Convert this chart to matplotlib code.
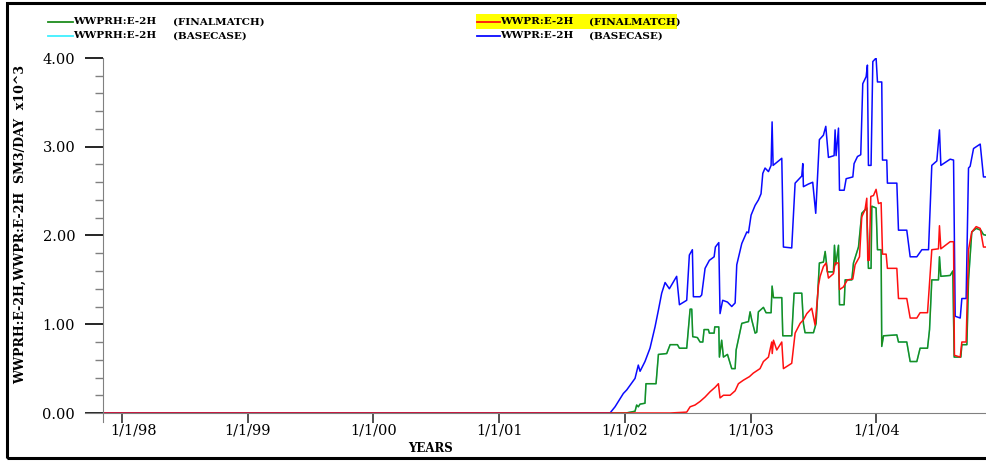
import matplotlib.pyplot as plt
from matplotlib.lines import Line2D
from matplotlib.patches import Rectangle
from matplotlib.transforms import ScaledTranslation

# time in decimal years, rates in SM3/DAY x10^3
t_wwpr_base = [1997.85, 2001.882, 2001.922, 2001.988, 2002.015, 2002.081, 2002.107, 2002.121, 2002.16,
               2002.2, 2002.24, 2002.267, 2002.293, 2002.32, 2002.354, 2002.412, 2002.434, 2002.492,
               2002.513, 2002.537, 2002.545, 2002.598, 2002.611, 2002.638, 2002.672, 2002.71, 2002.72,
               2002.747, 2002.757, 2002.778, 2002.816, 2002.85, 2002.877, 2002.89, 2002.93, 2002.97,
               2002.983, 2003.004, 2003.036, 2003.062, 2003.083, 2003.097, 2003.115, 2003.142, 2003.163,
               2003.171, 2003.179, 2003.248, 2003.261, 2003.327, 2003.354, 2003.407, 2003.415, 2003.42,
               2003.46, 2003.494, 2003.518, 2003.547, 2003.579, 2003.598, 2003.619, 2003.664, 2003.672,
               2003.68, 2003.699, 2003.707, 2003.744, 2003.76, 2003.813, 2003.823, 2003.85, 2003.876,
               2003.892, 2003.919, 2003.929, 2003.937, 2003.958, 2003.972, 2003.998, 2004.009, 2004.043,
               2004.049, 2004.083, 2004.088, 2004.163, 2004.176, 2004.242, 2004.269, 2004.322, 2004.362,
               2004.415, 2004.441, 2004.481, 2004.502, 2004.513, 2004.587, 2004.614, 2004.627, 2004.667,
               2004.68, 2004.714, 2004.733, 2004.746, 2004.773, 2004.826, 2004.852, 2004.881]
wwpr_base = [0, 0, 0.07, 0.22, 0.26, 0.39, 0.54, 0.47, 0.58,
             0.73, 0.97, 1.16, 1.35, 1.47, 1.40, 1.54, 1.22, 1.27,
             1.78, 1.84, 1.31, 1.31, 1.33, 1.63, 1.72, 1.76, 1.87,
             1.92, 1.12, 1.27, 1.25, 1.20, 1.24, 1.67, 1.91, 2.04,
             2.03, 2.23, 2.34, 2.40, 2.47, 2.70, 2.76, 2.72, 2.79,
             3.28, 2.79, 2.87, 1.87, 1.86, 2.59, 2.67, 2.81, 2.55,
             2.58, 2.60, 2.25, 3.08, 3.13, 3.23, 2.88, 2.90, 3.19,
             2.90, 3.21, 2.51, 2.51, 2.64, 2.66, 2.81, 2.89, 2.91,
             3.71, 3.79, 3.92, 2.79, 2.79, 3.96, 4.00, 3.73, 3.73,
             2.85, 2.85, 2.59, 2.59, 2.06, 2.06, 1.76, 1.76, 1.84,
             1.84, 2.79, 2.84, 3.19, 2.79, 2.86, 2.85, 1.09, 1.07,
             1.29, 1.29, 2.76, 2.78, 2.98, 3.03, 2.66, 2.66]

t_wwprh = [1997.85, 2002.009, 2002.081, 2002.094, 2002.107, 2002.121, 2002.16, 2002.168, 2002.248,
           2002.267, 2002.333, 2002.36, 2002.418, 2002.434, 2002.492, 2002.519, 2002.532, 2002.54,
           2002.577, 2002.598, 2002.62, 2002.63, 2002.664, 2002.672, 2002.71, 2002.715, 2002.747,
           2002.752, 2002.77, 2002.784, 2002.816, 2002.85, 2002.877, 2002.885, 2002.93, 2002.983,
           2002.996, 2003.009, 2003.036, 2003.049, 2003.062, 2003.102, 2003.123, 2003.163, 2003.171,
           2003.182, 2003.248, 2003.256, 2003.327, 2003.346, 2003.407, 2003.42, 2003.433, 2003.5,
           2003.521, 2003.547, 2003.579, 2003.593, 2003.611, 2003.659, 2003.667, 2003.677, 2003.699,
           2003.707, 2003.744, 2003.752, 2003.805, 2003.818, 2003.858, 2003.884, 2003.924, 2003.937,
           2003.958, 2003.964, 2003.998, 2004.009, 2004.038, 2004.043, 2004.057, 2004.163, 2004.176,
           2004.242, 2004.269, 2004.322, 2004.348, 2004.407, 2004.423, 2004.441, 2004.494, 2004.502,
           2004.513, 2004.587, 2004.608, 2004.619, 2004.672, 2004.68, 2004.72, 2004.733, 2004.759,
           2004.794, 2004.831, 2004.852, 2004.881]
wwprh = [0, 0, 0.02, 0.09, 0.07, 0.10, 0.11, 0.33, 0.33,
         0.66, 0.67, 0.77, 0.77, 0.73, 0.73, 1.17, 1.17, 0.86,
         0.85, 0.80, 0.80, 0.94, 0.94, 0.90, 0.90, 0.97, 0.97,
         0.63, 0.82, 0.63, 0.66, 0.50, 0.50, 0.71, 1.01, 1.03,
         1.14, 1.05, 0.90, 0.91, 1.14, 1.19, 1.13, 1.13, 1.43,
         1.30, 1.30, 0.87, 0.87, 1.35, 1.35, 1.01, 0.905, 0.905,
         1.01, 1.69, 1.70, 1.82, 1.59, 1.59, 1.89, 1.67, 1.89,
         1.22, 1.22, 1.50, 1.50, 1.69, 1.87, 2.25, 2.31, 1.63,
         1.63, 2.33, 2.31, 1.84, 1.84, 0.75, 0.87, 0.88, 0.80,
         0.80, 0.58, 0.58, 0.73, 0.73, 0.94, 1.50, 1.50, 1.76,
         1.54, 1.55, 1.60, 0.63, 0.63, 0.77, 0.77, 1.50, 2.04,
         2.08, 2.06, 2.01, 2.00]

t_wwpr_final = [1997.85, 2002.36, 2002.492, 2002.519, 2002.558, 2002.598, 2002.638, 2002.678, 2002.718,
                2002.744, 2002.757, 2002.784, 2002.837, 2002.877, 2002.903, 2002.943, 2002.991, 2003.022,
                2003.075, 2003.102, 2003.142, 2003.168, 2003.172, 2003.182, 2003.208, 2003.248, 2003.261,
                2003.327, 2003.354, 2003.394, 2003.42, 2003.447, 2003.486, 2003.513, 2003.54, 2003.553,
                2003.579, 2003.6, 2003.619, 2003.659, 2003.672, 2003.699, 2003.707, 2003.738, 2003.77,
                2003.813, 2003.831, 2003.866, 2003.884, 2003.91, 2003.924, 2003.932, 2003.943, 2003.956,
                2003.977, 2003.998, 2004.017, 2004.038, 2004.049, 2004.078, 2004.088, 2004.163, 2004.176,
                2004.242, 2004.269, 2004.322, 2004.348, 2004.407, 2004.441, 2004.494, 2004.502, 2004.513,
                2004.587, 2004.614, 2004.621, 2004.667, 2004.68, 2004.714, 2004.733, 2004.759, 2004.794,
                2004.826, 2004.852, 2004.881]
wwpr_final = [0, 0, 0.01, 0.07, 0.09, 0.13, 0.18, 0.24, 0.29,
              0.33, 0.17, 0.20, 0.20, 0.25, 0.33, 0.37, 0.41, 0.45,
              0.50, 0.58, 0.63, 0.80, 0.67, 0.82, 0.71, 0.80, 0.50,
              0.56, 0.90, 1.01, 1.05, 1.12, 1.18, 0.99, 1.44, 1.54,
              1.65, 1.69, 1.52, 1.57, 1.69, 1.69, 1.39, 1.42, 1.50,
              1.51, 1.67, 1.76, 2.21, 2.29, 2.42, 1.72, 1.72, 2.44,
              2.45, 2.52, 2.36, 2.37, 1.79, 1.79, 1.63, 1.63, 1.29,
              1.29, 1.07, 1.07, 1.13, 1.13, 1.84, 1.85, 2.11, 1.85,
              1.93, 1.93, 0.65, 0.63, 0.80, 0.80, 1.84, 2.04, 2.10,
              2.08, 1.87, 1.87]

year_ticks = [1998, 1999, 2000, 2001, 2002, 2003, 2004]
year_labels = ['1/1/98', '1/1/99', '1/1/00', '1/1/01', '1/1/02', '1/1/03', '1/1/04']
y_ticks = [0, 1, 2, 3, 4]
y_labels = ['0.00', '1.00', '2.00', '3.00', '4.00']

GREEN = '#1e8c1e'
CYAN = '#3ff0ff'
RED = '#ff1010'
BLUE = '#0a0aff'
GREY = '#808080'
SERIF = 'DejaVu Serif'

W, H = 987, 461
fig = plt.figure(figsize=(W / 100, H / 100), dpi=100)


def px(x, y):
    return x / W, 1 - y / H


# outer frame (right side runs off the image)
fig.patches.append(Rectangle(px(7, 458), 1.2, (458 - 3) / H, transform=fig.transFigure,
                             fill=False, edgecolor='black', linewidth=2.2))

ax = fig.add_axes([103 / W, 1 - 413 / H, 1 - 103 / W, (413 - 58) / H])
ax.set_xlim(1997.85, 2004.88)
ax.set_ylim(0, 4.0)
ax.patch.set_alpha(0)

ax.plot(t_wwprh, wwprh, color=CYAN, lw=1.0)
ax.plot(t_wwprh, wwprh, color=GREEN, lw=1.1)
ax.plot(t_wwpr_base, wwpr_base, color=BLUE, lw=1.1)
ax.plot(t_wwpr_final, wwpr_final, color=RED, lw=1.1)

for s in ['top', 'right']:
    ax.spines[s].set_visible(False)
ax.spines['left'].set_color(GREY)
ax.spines['bottom'].set_color(GREY)
ax.spines['left'].set_bounds(-0.1, 4.0)
ax.spines['bottom'].set_bounds(1997.85 - 18 / 125.7, 2004.88)

ax.set_yticks(y_ticks)
ax.set_yticklabels(y_labels, family=SERIF, fontsize=10.5)
ax.set_yticks([i * 0.2 for i in range(21) if i % 5], minor=True)
ax.tick_params(axis='y', which='major', length=13, width=1.2, color='black', pad=7)
ax.tick_params(axis='y', which='minor', length=6, width=1.0, color=GREY)

ax.set_xticks(year_ticks)
ax.set_xticklabels(year_labels, family=SERIF, fontsize=10.5)
ax.tick_params(axis='x', which='major', length=7, width=1.2, color='#333333', pad=0.5)
lbl = ax.get_xticklabels()[0]
lbl.set_transform(lbl.get_transform() + ScaledTranslation(0.12, 0, fig.dpi_scale_trans))

fig.text(*px(431, 448), 'YEARS', family=SERIF, fontsize=8.5, fontweight='bold',
         ha='center', va='center')
fig.text(*px(20, 225), 'WWPRH:E-2H,WWPR:E-2H  SM3/DAY  x10^3', family=SERIF, fontsize=9,
         fontweight='bold', rotation=90, ha='center', va='center')

# legend
fig.patches.append(Rectangle(px(476, 29), 201 / W, 15 / H, transform=fig.transFigure,
                             facecolor='#ffff00', edgecolor='none'))
legend_rows = [
    (48, 73, 22, GREEN, 'WWPRH:E-2H', 173, '(FINALMATCH)'),
    (48, 73, 36, CYAN, 'WWPRH:E-2H', 173, '(BASECASE)'),
    (477, 500, 22, RED, 'WWPR:E-2H', 589, '(FINALMATCH)'),
    (477, 500, 36, BLUE, 'WWPR:E-2H', 589, '(BASECASE)'),
]
for x0, x1, yy, c, name, xc, case in legend_rows:
    fig.add_artist(Line2D([x0 / W, x1 / W], [1 - yy / H, 1 - yy / H], color=c, lw=1.3,
                          transform=fig.transFigure))
    fig.text(x1 / W, 1 - yy / H, name, family=SERIF, fontsize=7.5, fontweight='bold',
             ha='left', va='center')
    fig.text(xc / W, 1 - yy / H, case, family=SERIF, fontsize=7.5, fontweight='bold',
             ha='left', va='center')

fig.savefig('out.png', dpi=100)
